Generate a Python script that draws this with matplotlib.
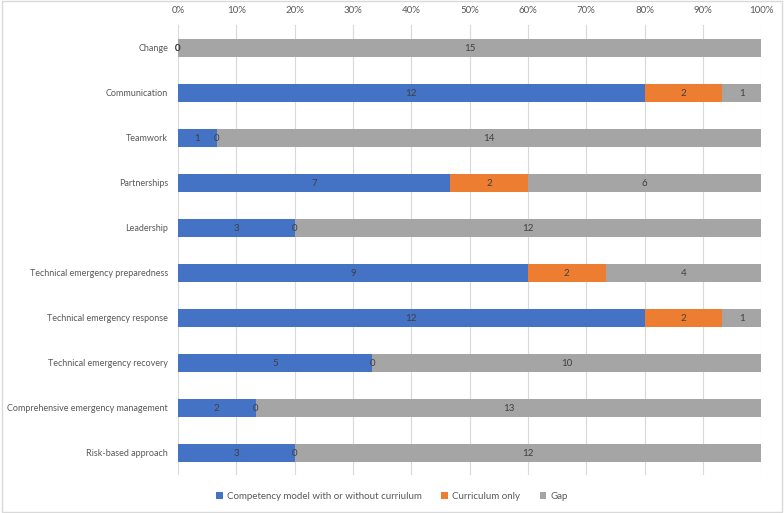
import numpy as np
import matplotlib.pyplot as plt
from matplotlib.patches import Rectangle

plt.rcParams['font.family'] = ['Lato', 'DejaVu Sans']

categories = ['Change', 'Communication', 'Teamwork', 'Partnerships', 'Leadership',
              'Technical emergency preparedness', 'Technical emergency response',
              'Technical emergency recovery', 'Comprehensive emergency management',
              'Risk-based approach']
competency = [0, 12, 1, 7, 3, 9, 12, 5, 2, 3]
curriculum = [0, 2, 0, 2, 0, 2, 2, 0, 0, 0]
gap = [15, 1, 14, 6, 12, 4, 1, 10, 13, 12]

series = [('Competency model with or without curriulum', competency, '#4472C4'),
          ('Curriculum only', curriculum, '#ED7D31'),
          ('Gap', gap, '#A5A5A5')]

totals = np.array(competency) + np.array(curriculum) + np.array(gap)
y = np.arange(len(categories))

fig = plt.figure(figsize=(7.84, 5.13), dpi=100)
ax = fig.add_axes([0.227, 0.074, 0.744, 0.877])

left = np.zeros(len(categories))
for name, vals, color in series:
    vals = np.array(vals, dtype=float)
    frac = vals / totals
    ax.barh(y, frac, left=left, height=0.4, color=color, label=name, zorder=2)
    for i in range(len(categories)):
        # zero gap never happens; zero labels of the first two sit on the boundary
        if vals[i] == 0 and name == 'Gap':
            continue
        ax.text(left[i] + frac[i] / 2, y[i], '%d' % vals[i], ha='center',
                va='center_baseline', fontsize=7, color='#404040', zorder=3)
    left = left + frac

ax.set_xlim(0, 1)
ax.set_ylim(len(categories) - 0.5, -0.5)
ax.set_xticks(np.arange(0, 1.01, 0.1))
ax.set_xticklabels(['%d%%' % v for v in range(0, 101, 10)])
ax.xaxis.tick_top()
ax.set_yticks(y)
ax.set_yticklabels(categories)
ax.tick_params(axis='both', length=0, labelsize=7, colors='#595959')
ax.tick_params(axis='y', labelsize=6.5, pad=7)
ax.tick_params(axis='x', pad=7)
ax.grid(axis='x', color='#D9D9D9', linewidth=0.8, zorder=0)
for s in ax.spines.values():
    s.set_visible(False)

handles, labels = ax.get_legend_handles_labels()
fig.legend(handles, labels, loc='center', bbox_to_anchor=(0.5, 0.033), ncol=3,
           frameon=False, fontsize=7, labelcolor='#595959', handlelength=0.7,
           handleheight=0.7, columnspacing=2.0, handletextpad=0.4)

fig.patches.append(Rectangle((0.002, 0.002), 0.996, 0.996, transform=fig.transFigure,
                             fill=False, edgecolor='#D9D9D9', linewidth=1))

fig.savefig('out.png', dpi=100)
